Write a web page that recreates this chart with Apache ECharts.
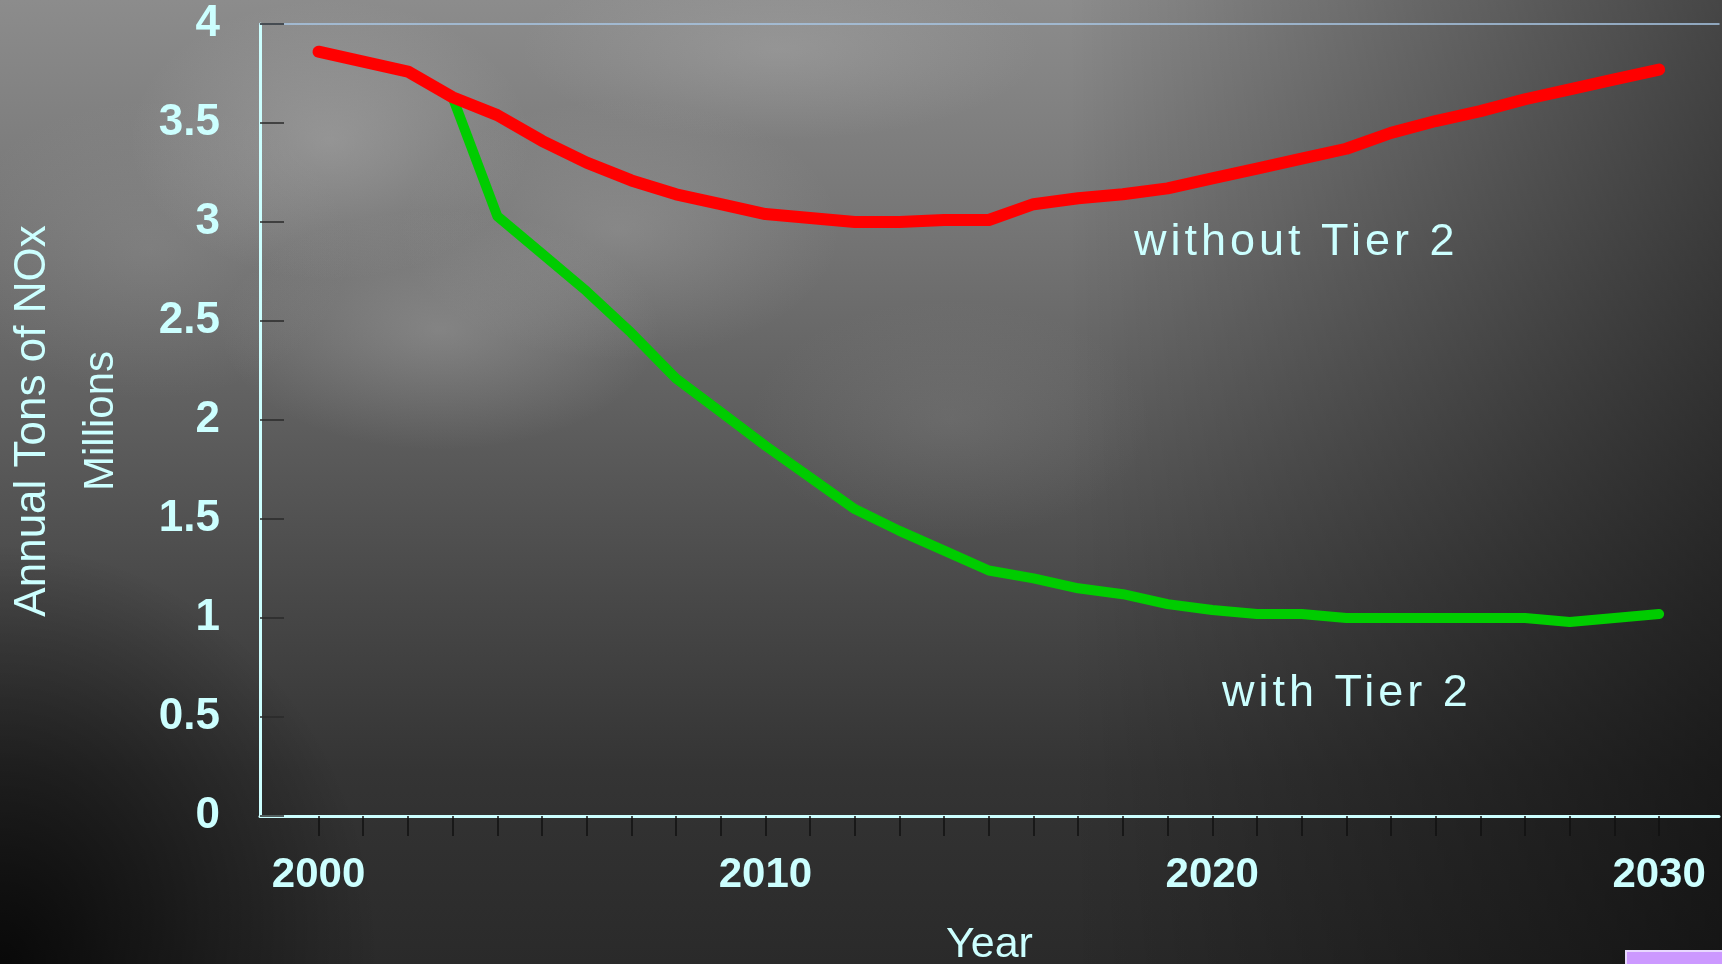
<!DOCTYPE html>
<html>
<head>
<meta charset="utf-8">
<script src="https://cdn.jsdelivr.net/npm/echarts@6/dist/echarts.min.js"></script>
<style>
html,body{margin:0;padding:0;width:1722px;height:964px;overflow:hidden;}
#bg{position:absolute;left:0;top:0;width:1722px;height:964px;
background:
 radial-gradient(ellipse 200px 140px at 330px 140px, rgba(200,200,200,0.30), rgba(200,200,200,0) 100%),
 radial-gradient(ellipse 220px 120px at 440px 330px, rgba(200,200,200,0.28), rgba(200,200,200,0) 100%),
 radial-gradient(ellipse 220px 130px at 620px 230px, rgba(190,190,190,0.25), rgba(190,190,190,0) 100%),
 radial-gradient(ellipse 260px 90px at 780px 50px, rgba(190,190,190,0.25), rgba(190,190,190,0) 100%),
 radial-gradient(ellipse 200px 120px at 950px 420px, rgba(160,160,160,0.18), rgba(160,160,160,0) 100%),
 radial-gradient(ellipse 200px 150px at 150px 250px, rgba(180,180,180,0.18), rgba(180,180,180,0) 100%),
 linear-gradient(to bottom, #8c8c8c 0%, #777 22%, #606060 42%, #484848 62%, #343434 80%, #2a2a2a 100%);
}
#bg:after{content:"";position:absolute;left:0;top:0;right:0;bottom:0;
background:
 linear-gradient(to right, rgba(0,0,0,0) 62%, rgba(0,0,0,0.3) 85%, rgba(0,0,0,0.5) 100%),
 radial-gradient(ellipse 380px 420px at 0px 964px, rgba(0,0,0,0.8), rgba(0,0,0,0) 100%);}
#chart{position:absolute;left:0;top:0;width:1722px;height:964px;}
</style>
</head>
<body>
<div id="bg"></div>
<div id="chart"></div>
<script>
// Data
const years = [2000,2001,2002,2003,2004,2005,2006,2007,2008,2009,2010,2011,2012,2013,2014,2015,2016,2017,2018,2019,2020,2021,2022,2023,2024,2025,2026,2027,2028,2029,2030];
const withoutTier2 = [3.86,3.81,3.76,3.63,3.54,3.41,3.30,3.21,3.14,3.09,3.04,3.02,3.00,3.00,3.01,3.01,3.09,3.12,3.14,3.17,3.22,3.27,3.32,3.37,3.45,3.51,3.56,3.62,3.67,3.72,3.77];
const withTier2Years = [2003,2004,2005,2006,2007,2008,2009,2010,2011,2012,2013,2014,2015,2016,2017,2018,2019,2020,2021,2022,2023,2024,2025,2026,2027,2028,2029,2030];
const withTier2 = [3.63,3.03,2.84,2.65,2.44,2.21,2.04,1.87,1.71,1.55,1.44,1.34,1.24,1.20,1.15,1.12,1.07,1.04,1.02,1.02,1.00,1.00,1.00,1.00,1.00,0.98,1.00,1.02];
const xLabelYears = [2000,2010,2020,2030];
const seriesNames = ['without Tier 2','with Tier 2'];
const yTitle = 'Annual Tons of NOx';
const yTitle2 = 'Millions';
const xTitle = 'Year';

const cyan = '#ccffff';
const chart = echarts.init(document.getElementById('chart'), null, {renderer:'canvas'});
// separate layer for the annotations, drawn with letter spacing
const ANN_Z = 5;
try {
  const layer = chart.getZr().painter.getLayer(ANN_Z);
  if (layer && layer.ctx) layer.ctx.letterSpacing = '4px';
} catch (e) {}

const FF = 'Liberation Sans, Arial, sans-serif';

chart.setOption({
  backgroundColor: 'transparent',
  animation: false,
  grid: {left: 260, top: 24, right: 3, bottom: 148, containLabel: false, outerBoundsMode: 'none'},
  xAxis: [{
    type: 'value', min: 1998.69, max: 2031.34,
    name: xTitle, nameLocation: 'middle', nameGap: 108,
    nameTextStyle: {color: cyan, fontSize: 43, fontFamily: FF},
    axisLine: {show: true, lineStyle: {color: cyan, width: 3}},
    axisTick: {show: true, inside: false, length: 20, customValues: years, lineStyle: {color: '#111', width: 1.5}},
    axisLabel: {customValues: xLabelYears, margin: 38, formatter: v => String(v), color: cyan, fontSize: 42, fontWeight: 'bold', fontFamily: FF},
    splitLine: {show: false}
  },{
    type: 'value', position: 'top', min: 1998.69, max: 2031.34,
    axisLine: {show: true, lineStyle: {color: '#a9c7e6', width: 1.5}},
    axisTick: {show: false}, axisLabel: {show: false}, splitLine: {show: false}
  }],
  yAxis: {
    type: 'value', min: 0, max: 4, interval: 0.5,
    axisLine: {show: true, lineStyle: {color: cyan, width: 3}},
    axisTick: {show: true, inside: true, length: 24, lineStyle: {color: '#2a2a2a', width: 1.5}},
    axisLabel: {margin: 40, color: cyan, fontSize: 44, fontWeight: 'bold', fontFamily: FF},
    splitLine: {show: false}
  },
  series: [{
    name: seriesNames[0], type: 'line', xAxisIndex: 0,
    data: years.map((y,i) => [y, withoutTier2[i]]),
    symbol: 'none', lineStyle: {color: '#ff0000', width: 12, cap: 'round', join: 'round'}, z: 3
  },{
    name: seriesNames[1], type: 'line', xAxisIndex: 0,
    data: withTier2Years.map((y,i) => [y, withTier2[i]]),
    symbol: 'none', lineStyle: {color: '#00cc00', width: 10, cap: 'round', join: 'round'}, z: 2
  }],
  graphic: [
    {type: 'text', x: 33, y: 421, rotation: Math.PI/2,
     style: {text: yTitle, fill: cyan, font: '44px "Liberation Sans", Arial, sans-serif', align: 'center', verticalAlign: 'middle'}},
    {type: 'text', x: 101, y: 421, rotation: Math.PI/2,
     style: {text: yTitle2, fill: cyan, font: '42px "Liberation Sans", Arial, sans-serif', align: 'center', verticalAlign: 'middle'}},
    {type: 'text', x: 1134, y: 243, zlevel: ANN_Z,
     style: {text: seriesNames[0], fill: cyan, font: '45px "Liberation Sans", Arial, sans-serif', align: 'left', verticalAlign: 'middle'}},
    {type: 'text', x: 1222, y: 694, zlevel: ANN_Z,
     style: {text: seriesNames[1], fill: cyan, font: '45px "Liberation Sans", Arial, sans-serif', align: 'left', verticalAlign: 'middle'}},
    {type: 'rect', shape: {x: 1626, y: 951, width: 110, height: 20},
     style: {fill: '#cc99ff', stroke: '#e8d8ff', lineWidth: 2}}
  ]
});
</script>
</body>
</html>
